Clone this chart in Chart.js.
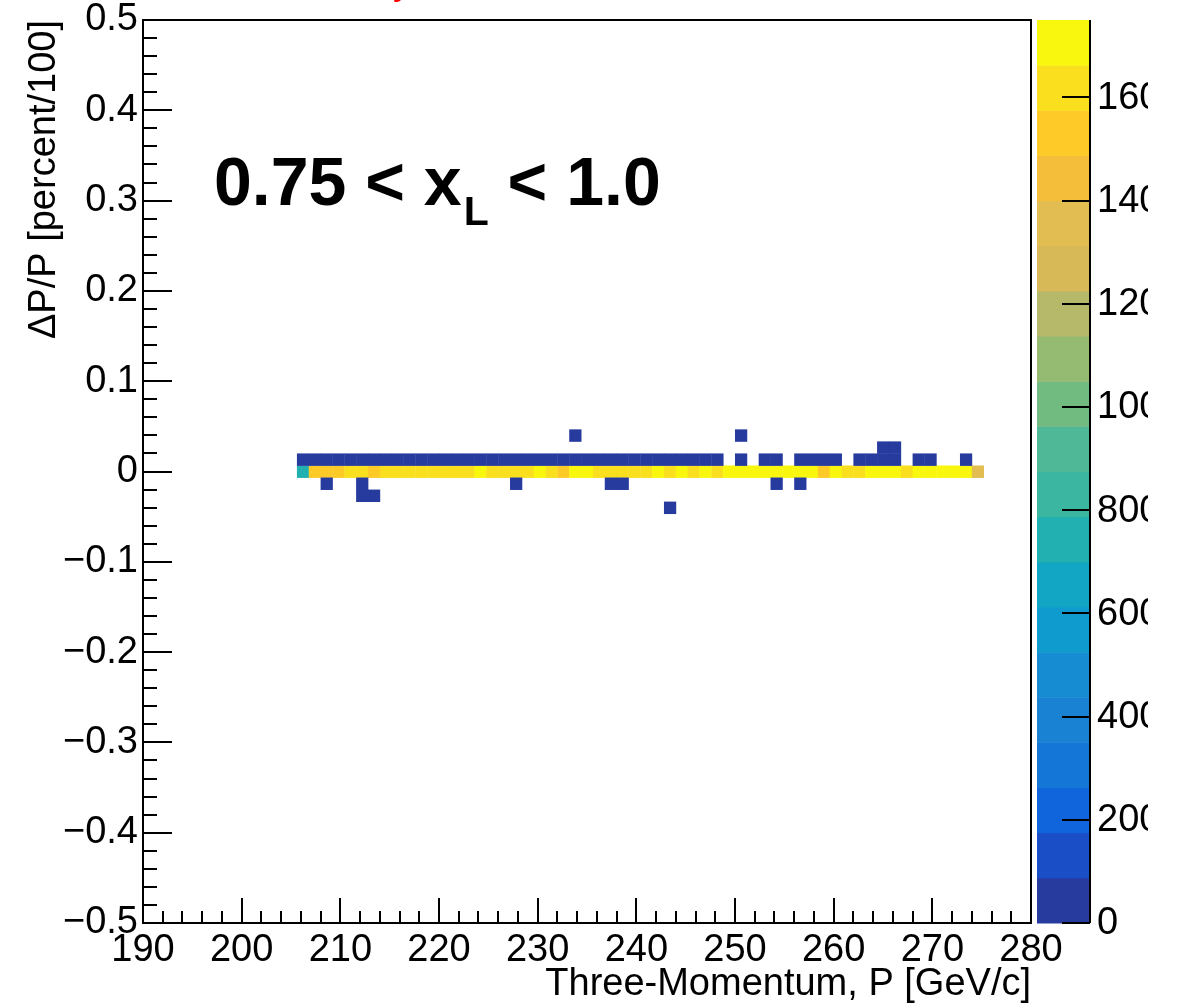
<!DOCTYPE html>
<html>
<head>
<meta charset="utf-8">
<script src="https://cdn.jsdelivr.net/npm/chart.js@4.4.0/dist/chart.umd.min.js"></script>
<style>
  html, body { margin: 0; padding: 0; background: #fff; }
</style>
</head>
<body>
<canvas id="momentum-chart" width="1181" height="1006"></canvas>
<script>
// TH2 binning, ROOT style: 75 x 75 bins
const pBinCount = 75, pMin = 190, pMax = 280;
const resBinCount = 75, resMin = -0.5, resMax = 0.5;
const zMax = 1750;

const xTickValues = [190, 200, 210, 220, 230, 240, 250, 260, 270, 280];
const zTickValues = [0, 200, 400, 600, 800, 1000, 1200, 1400, 1600];

// central ΔP/P bin (row 0), momentum bins 13..70
const coreFirstBin = 13;
const coreCounts = [
  742, 1538, 1522, 1547, 1618, 1634, 1529, 1652, 1611, 1640,
  1648, 1625, 1657, 1603, 1637, 1716, 1642, 1629, 1659, 1655,
  1722, 1661, 1519, 1731, 1712, 1648, 1633, 1622, 1659, 1621,
  1709, 1644, 1724, 1612, 1718, 1650, 1735, 1741, 1728, 1744,
  1719, 1738, 1747, 1726, 1533, 1713, 1645, 1651, 1730, 1742,
  1721, 1608, 1733, 1745, 1729, 1750, 1739, 1362
];

// sparse cells away from row 0: momentum bin, ΔP/P row, entries
const tailBinX = [
  13, 14, 15, 16, 17, 18, 19, 20, 21, 22, 23, 24, 25, 26, 27, 28, 29, 30,
  31, 32, 33, 34, 35, 36, 37, 38, 39, 40, 41, 42, 43, 44, 45, 46, 47, 48,
  50, 52, 53, 55, 56, 57, 58, 60, 61, 62, 63, 65, 66, 69,
  62, 63, 36, 50,
  15, 18, 31, 39, 40, 53, 55,
  18, 19, 44
];
const tailBinY = [
  1, 1, 1, 1, 1, 1, 1, 1, 1, 1, 1, 1, 1, 1, 1, 1, 1, 1,
  1, 1, 1, 1, 1, 1, 1, 1, 1, 1, 1, 1, 1, 1, 1, 1, 1, 1,
  1, 1, 1, 1, 1, 1, 1, 1, 1, 1, 1, 1, 1, 1,
  2, 2, 3, 3,
  -1, -1, -1, -1, -1, -1, -1,
  -2, -2, -3
];
const tailCounts = [
  38, 41, 35, 44, 39, 36, 42, 40, 37, 43, 39, 41, 38, 36, 40, 42, 37, 39,
  35, 41, 38, 36, 34, 37, 33, 35, 31, 30, 29, 27, 25, 24, 21, 19, 16, 14,
  6, 5, 4, 4, 3, 3, 2, 3, 2, 2, 2, 2, 1, 1,
  1, 1, 1, 1,
  2, 1, 1, 1, 1, 1, 1,
  1, 1, 1
];

// kBird-like palette, 20 contour bands from bottom to top
const birdBands = [
  '#273a9e', '#1a4ec6', '#1165dc', '#1477d8', '#1a82d2',
  '#168cd3', '#109bcf', '#12a6c4', '#22b1b0', '#3bb6a0',
  '#4fb896', '#71bb81', '#95bb73', '#b6b96a', '#d7b957',
  '#e1bd52', '#f4be3b', '#fdca27', '#fadf1e', '#f9f70e'
];

const pWidth = (pMax - pMin) / pBinCount;
const resWidth = (resMax - resMin) / resBinCount;
const resZeroBin = Math.floor((0 - resMin) / resWidth); // 37

function cellFromBins(ix, iy, n) {
  return { x: pMin + (ix + 0.5) * pWidth, y: resMin + (resZeroBin + iy + 0.5) * resWidth, v: n };
}

const cells = [];
coreCounts.forEach((n, i) => cells.push(cellFromBins(coreFirstBin + i, 0, n)));
tailCounts.forEach((n, i) => cells.push(cellFromBins(tailBinX[i], tailBinY[i], n)));

function bandColor(v) {
  const k = Math.min(birdBands.length - 1, Math.floor(v / zMax * birdBands.length));
  return birdBands[k];
}

const FONT = '"Liberation Sans", Arial, Helvetica, sans-serif';

const hist2d = {
  id: 'hist2d',
  beforeDatasetsDraw(chart) {
    const { ctx, scales: { x, y } } = chart;
    const area = chart.chartArea;
    ctx.save();
    ctx.beginPath();
    ctx.rect(area.left, area.top, area.right - area.left, area.bottom - area.top);
    ctx.clip();
    chart.data.datasets[0].data.forEach(c => {
      const x0 = x.getPixelForValue(c.x - pWidth / 2);
      const x1 = x.getPixelForValue(c.x + pWidth / 2);
      const y0 = y.getPixelForValue(c.y - resWidth / 2);
      const y1 = y.getPixelForValue(c.y + resWidth / 2);
      ctx.fillStyle = bandColor(c.v);
      ctx.fillRect(x0, y1, x1 - x0 + 0.4, y0 - y1 + 0.4);
    });
    ctx.restore();
  },
  afterDraw(chart) {
    const { ctx, scales: { x, y, z } } = chart;
    const area = chart.chartArea;
    ctx.save();

    // frame
    ctx.strokeStyle = '#000';
    ctx.lineWidth = 2;
    ctx.strokeRect(area.left, area.top, area.right - area.left, area.bottom - area.top);

    // inward ticks
    ctx.beginPath();
    for (let v = pMin; v <= pMax + 1e-6; v += 2) {
      const px = Math.round(x.getPixelForValue(v));
      const major = Math.abs((v - pMin) % 10) < 1e-6;
      ctx.moveTo(px, area.bottom);
      ctx.lineTo(px, area.bottom - (major ? 25 : 12));
    }
    for (let i = 0; i <= 50; i++) {
      const v = resMin + i * 0.02;
      const py = Math.round(y.getPixelForValue(v));
      const major = i % 5 === 0;
      ctx.moveTo(area.left, py);
      ctx.lineTo(area.left + (major ? 29 : 14), py);
    }
    ctx.stroke();

    // colour bar
    const barLeft = 1037, barRight = 1090;
    birdBands.forEach((col, k) => {
      const yLow = z.getPixelForValue(k * zMax / birdBands.length);
      const yHigh = z.getPixelForValue((k + 1) * zMax / birdBands.length);
      ctx.fillStyle = col;
      ctx.fillRect(barLeft, yHigh, barRight - barLeft, yLow - yHigh + 0.5);
    });
    ctx.beginPath();
    ctx.moveTo(barRight, z.getPixelForValue(0));
    ctx.lineTo(barRight, z.getPixelForValue(zMax));
    zTickValues.forEach(v => {
      const py = Math.round(z.getPixelForValue(v));
      ctx.moveTo(barRight, py);
      ctx.lineTo(barRight - 28, py);
    });
    ctx.stroke();

    // colour bar labels are clipped by the pad edge
    ctx.save();
    ctx.beginPath();
    ctx.rect(0, 0, 1148, 1006);
    ctx.clip();
    ctx.fillStyle = '#000';
    ctx.font = '38px ' + FONT;
    ctx.textAlign = 'left';
    ctx.textBaseline = 'middle';
    zTickValues.forEach(v => ctx.fillText(String(v), 1097, z.getPixelForValue(v) + 1));
    ctx.restore();

    // range label
    ctx.fillStyle = '#000';
    ctx.textAlign = 'left';
    ctx.textBaseline = 'alphabetic';
    ctx.font = 'bold 68px ' + FONT;
    let tx = 214;
    const base = 205;
    ctx.fillText('0.75 < x', tx, base);
    tx += ctx.measureText('0.75 < x').width + 2;
    ctx.font = 'bold 41px ' + FONT;
    ctx.fillText('L', tx, base + 20);
    tx += ctx.measureText('L').width;
    ctx.font = 'bold 68px ' + FONT;
    ctx.fillText(' < 1.0', tx, base);

    // clipped red title fragment at the top edge
    ctx.fillStyle = '#ff0000';
    ctx.font = '38px ' + FONT;
    ctx.fillText('y', 393, -6);

    ctx.restore();
  }
};

new Chart(document.querySelector('#momentum-chart').getContext('2d'), {
  type: 'scatter',
  data: {
    datasets: [{
      label: 'ΔP/P vs P',
      data: cells,
      pointRadius: 0,
      pointHoverRadius: 0
    }]
  },
  options: {
    responsive: false,
    animation: false,
    events: [],
    layout: { padding: { left: 0, top: 20, right: 150, bottom: 0 } },
    plugins: { legend: { display: false }, tooltip: { enabled: false } },
    scales: {
      x: {
        type: 'linear',
        position: 'bottom',
        min: pMin,
        max: pMax,
        afterBuildTicks: s => { s.ticks = xTickValues.map(v => ({ value: v })); },
        afterFit: s => { s.height = 83; s.paddingLeft = 0; s.paddingRight = 0; },
        grid: { display: false, drawTicks: false },
        border: { display: false },
        ticks: {
          autoSkip: false, maxRotation: 0, padding: 9,
          color: '#000', font: { family: FONT, size: 38, lineHeight: 1.0 },
          callback: v => String(v)
        },
        title: {
          display: true, text: 'Three-Momentum, P [GeV/c]', align: 'end',
          color: '#000', font: { family: FONT, size: 38 }, padding: { top: 0, bottom: -1 }
        }
      },
      y: {
        type: 'linear',
        position: 'left',
        min: resMin,
        max: resMax,
        ticks: {
          stepSize: 0.1, autoSkip: false, padding: 5,
          color: '#000', font: { family: FONT, size: 38, lineHeight: 1.0 },
          callback: v => {
            const r = Math.round(v * 10) / 10;
            if (r === 0) return '0';
            return (r < 0 ? '\u2212' : '') + Math.abs(r).toFixed(1);
          }
        },
        afterFit: s => { s.width = 143; s.paddingTop = 0; s.paddingBottom = 0; },
        grid: { display: false, drawTicks: false },
        border: { display: false },
        title: {
          display: true, text: 'ΔP/P [percent/100]', align: 'end',
          color: '#000', font: { family: FONT, size: 38 }, padding: { top: 22, bottom: 0 }
        }
      },
      z: {
        type: 'linear',
        position: 'right',
        display: false,
        min: 0,
        max: zMax
      }
    }
  },
  plugins: [hist2d]
});
</script>
</body>
</html>
